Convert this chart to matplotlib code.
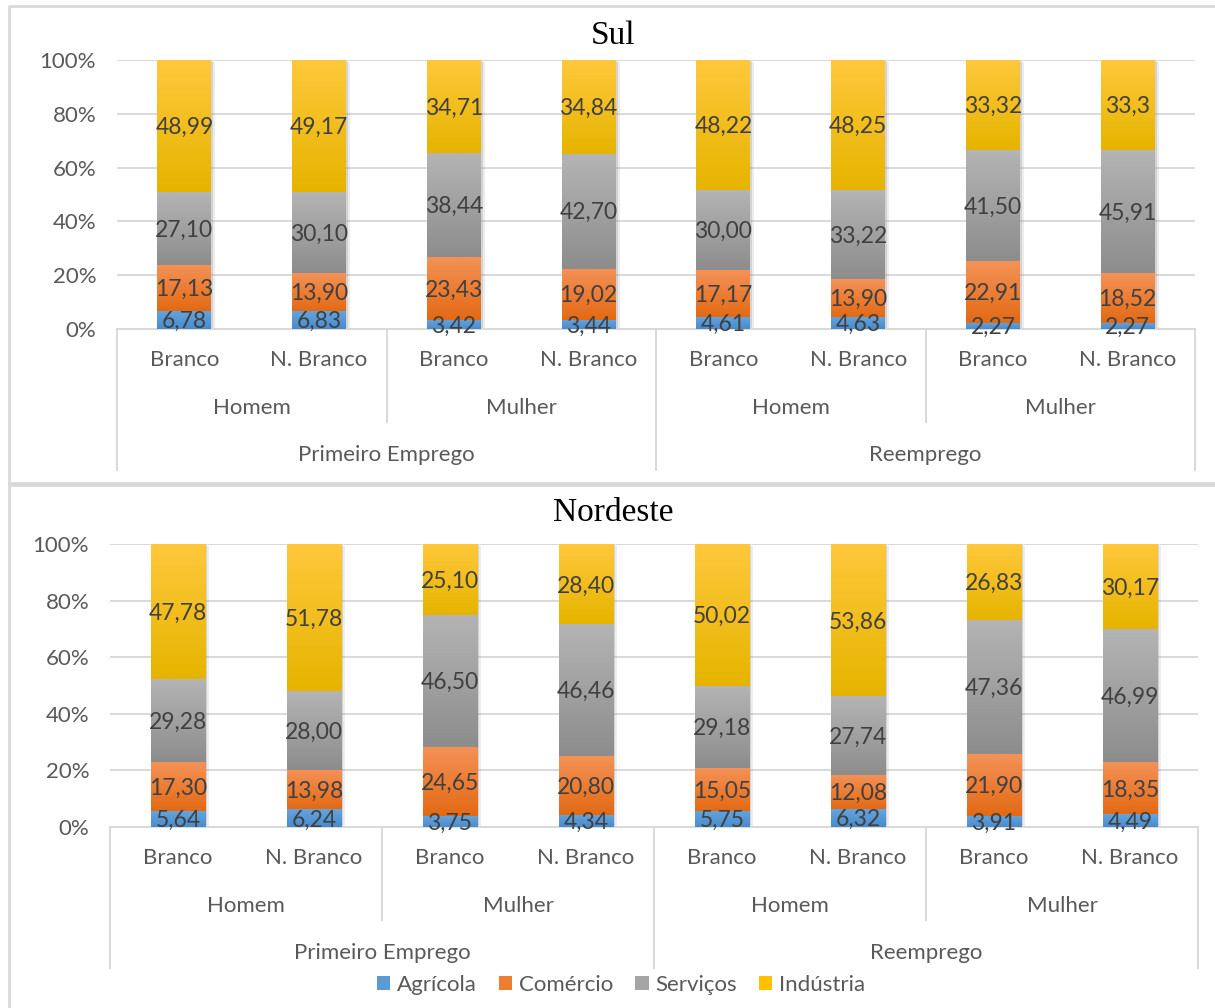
import numpy as np
import matplotlib.pyplot as plt
import matplotlib.patheffects as pe
from matplotlib.lines import Line2D
from matplotlib.patches import Patch
from matplotlib.ticker import FuncFormatter

# valores copiados da planilha (formato brasileiro)
setores = ['Agrícola', 'Comércio', 'Serviços', 'Indústria']
raca = ['Branco', 'N. Branco'] * 4
sexo = ['Homem', 'Mulher'] * 2
emprego = ['Primeiro Emprego', 'Reemprego']

sul_agricola = ['6,78', '6,83', '3,42', '3,44', '4,61', '4,63', '2,27', '2,27']
sul_comercio = ['17,13', '13,90', '23,43', '19,02', '17,17', '13,90', '22,91', '18,52']
sul_servicos = ['27,10', '30,10', '38,44', '42,70', '30,00', '33,22', '41,50', '45,91']
sul_industria = ['48,99', '49,17', '34,71', '34,84', '48,22', '48,25', '33,32', '33,3']

ne_agricola = ['5,64', '6,24', '3,75', '4,34', '5,75', '6,32', '3,91', '4,49']
ne_comercio = ['17,30', '13,98', '24,65', '20,80', '15,05', '12,08', '21,90', '18,35']
ne_servicos = ['29,28', '28,00', '46,50', '46,46', '29,18', '27,74', '47,36', '46,99']
ne_industria = ['47,78', '51,78', '25,10', '28,40', '50,02', '53,86', '26,83', '30,17']

# degrade de cada setor: cor no topo e na base da barra
cores_topo = ['#64a5de', '#f49257', '#b4b4b4', '#ffc83c']
cores_base = ['#4a8bcc', '#e36a14', '#8d8d8d', '#e6b400']
cores_legenda = ['#5b9bd5', '#ed7d31', '#a5a5a5', '#ffc000']

CINZA_TXT = '#595959'
CINZA_LINHA = '#d9d9d9'
FONTE = 'Lato'

W, H, DPI = 1215, 1008, 100


def num(s):
    return float(s.replace(',', '.'))


def degrade(c1, c2, n=64):
    a = np.array(plt.matplotlib.colors.to_rgb(c1))
    b = np.array(plt.matplotlib.colors.to_rgb(c2))
    t = np.linspace(0, 1, n)[:, None]
    return (a * (1 - t) + b * t)[:, None, :]


def ax_px(left, top, right, bottom):
    return [left / W, 1 - bottom / H, (right - left) / W, (bottom - top) / H]


def painel(ax, titulo, series, altura_px, y_titulo):
    x = np.arange(len(raca))
    base = np.zeros(len(raca))
    sombra = [pe.SimplePatchShadow(offset=(3, -1.5), shadow_rgbFace='#9a9a9a', alpha=0.18),
              pe.SimplePatchShadow(offset=(1.5, -0.8), shadow_rgbFace='#8a8a8a', alpha=0.25),
              pe.Normal()]
    for k, serie in enumerate(series):
        vals = np.array([num(s) for s in serie])
        bars = ax.bar(x, vals, 0.4, bottom=base, color=cores_legenda[k],
                      linewidth=0, zorder=2)
        img = degrade(cores_topo[k], cores_base[k])
        for p, s in zip(bars, serie):
            p.set_path_effects(sombra)
            x0, y0 = p.get_x(), p.get_y()
            ax.imshow(img, extent=(x0, x0 + p.get_width(), y0, y0 + p.get_height()),
                      aspect='auto', origin='upper', interpolation='bilinear', zorder=3)
            ax.text(x0 + p.get_width() / 2, y0 + p.get_height() / 2 - 0.6, s,
                    ha='center', va='center', fontsize=16.5, color='#404040',
                    family=FONTE, zorder=4)
        base += vals

    ax.set_xlim(-0.5, len(raca) - 0.5)
    ax.set_ylim(0, 100)
    ax.set_yticks(np.arange(0, 101, 20))
    ax.yaxis.set_major_formatter(FuncFormatter(lambda v, _: f'{v:.0f}%'))
    ax.tick_params(axis='y', length=0, pad=15, labelsize=16, labelcolor=CINZA_TXT)
    for t in ax.get_yticklabels():
        t.set_family(FONTE)
    ax.set_xticks([])
    ax.grid(axis='y', color=CINZA_LINHA, linewidth=1.4, zorder=0)
    ax.set_axisbelow(True)
    for sp in ['top', 'right', 'left']:
        ax.spines[sp].set_visible(False)
    ax.spines['bottom'].set_color(CINZA_LINHA)
    ax.spines['bottom'].set_linewidth(1.4)

    # eixo de categorias em tres niveis
    tr = ax.get_xaxis_transform()

    def fy(px):
        return -px / altura_px

    txt = dict(transform=tr, ha='center', va='center', fontsize=16,
               color=CINZA_TXT, family=FONTE)
    for i, lab in enumerate(raca):
        ax.text(i, fy(31), lab, **txt)
    for j, lab in enumerate(sexo):
        ax.text(2 * j + 0.5, fy(79), lab, **txt)
    for k, lab in enumerate(emprego):
        ax.text(4 * k + 1.5, fy(126), lab, **txt)
    for xb, comp in [(-0.5, 141), (1.5, 93), (3.5, 141), (5.5, 93), (7.5, 141)]:
        ax.plot([xb, xb], [0, fy(comp)], transform=tr, clip_on=False,
                color=CINZA_LINHA, linewidth=1.4)

    ax.figure.text(613 / W, 1 - y_titulo / H, titulo, ha='center', va='center',
                   fontsize=24, family='Liberation Serif', color='black')


fig = plt.figure(figsize=(W / DPI, H / DPI), dpi=DPI)

ax1 = fig.add_axes(ax_px(117, 60, 1195, 329))
painel(ax1, 'Sul', [sul_agricola, sul_comercio, sul_servicos, sul_industria], 269, 36)

ax2 = fig.add_axes(ax_px(110, 544, 1198, 827))
painel(ax2, 'Nordeste', [ne_agricola, ne_comercio, ne_servicos, ne_industria], 283, 513)

# molduras dos dois graficos
for xs, ys in [([9, 9, 1216], [483, 6, 6]), ([9, 1216], [483, 483]),
               ([9, 9], [1010, 485]), ([9, 1216], [485, 485])]:
    fig.add_artist(Line2D([v / W for v in xs], [1 - v / H for v in ys],
                          color=CINZA_LINHA, linewidth=2))

handles = [Patch(facecolor=c, edgecolor='none') for c in cores_legenda]
fig.legend(handles, setores, loc='center', bbox_to_anchor=(621 / W, 1 - 985 / H),
           ncol=4, frameon=False, handlelength=0.6, handleheight=0.6,
           handletextpad=0.3, columnspacing=1.0,
           prop={'family': FONTE, 'size': 16}, labelcolor=CINZA_TXT)

fig.savefig('out.png', dpi=DPI)
